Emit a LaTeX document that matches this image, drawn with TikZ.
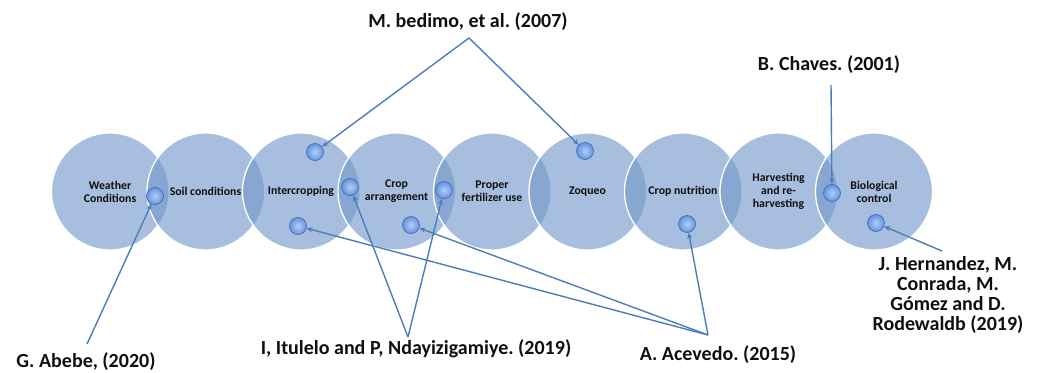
\documentclass[tikz,border=0pt]{standalone}
\usepackage{fontspec}
\setmainfont{Carlito}
\usetikzlibrary{arrows.meta}
\frenchspacing
\definecolor{cbase}{RGB}{117,154,203}
\definecolor{lineblue}{RGB}{74,126,187}
\definecolor{dotin}{RGB}{180,206,248}
\definecolor{dotout}{RGB}{100,148,222}
\definecolor{dotedge}{RGB}{65,110,178}
\definecolor{txt}{RGB}{15,15,15}
\tikzset{
  cfill/.style={fill=cbase, fill opacity=0.64},
  cborder/.style={draw=white, line width=1.3},
  ctext/.style={align=center, font=\fontsize{11.8}{13}\selectfont\bfseries, text=txt, inner sep=0},
  dotnode/.style={circle, minimum size=17, inner sep=0, draw=dotedge, line width=0.7, inner color=dotin, outer color=dotout},
  reflabel/.style={align=center, font=\fontsize{20}{20}\selectfont\bfseries, text=txt, inner sep=0},
  link/.style={draw=lineblue, line width=1.4, -{Stealth[length=6pt,width=5pt]}}
}
\begin{document}
\begin{tikzpicture}[x=1pt,y=-1pt]
\useasboundingbox (0,0) rectangle (1038,372);
% circle centres
\foreach \i/\x in {1/110,2/205.5,3/301,4/396.5,5/492,6/587.5,7/683,8/778.5,9/874}
  \coordinate (c\i) at (\x,191.5);
% circles
\foreach \i [evaluate=\i as \j using int(\i+1)] in {1,...,9}{
  \fill[cfill] (c\i) circle[radius=58.5];
  \begin{scope}[even odd rule]
    \ifnum\i<9 \clip (-20,-20) rectangle (1060,400) (c\j) circle[radius=58.5];\fi
    \draw[cborder] (c\i) circle[radius=58.5];
  \end{scope}
}
% circle texts
\node[ctext] (t1) at (c1) {Weather\\Conditions};
\node[ctext] (t2) at (c2) {Soil conditions};
\node[ctext] (t3) at (c3) {Intercropping};
\node[ctext] (t4) at (c4) {Crop\\arrangement};
\node[ctext] (t5) at (c5) {Proper\\fertilizer use};
\node[ctext] (t6) at (c6) {Zoqueo};
\node[ctext] (t7) at (c7) {Crop nutrition};
\node[ctext] (t8) at (c8) {Harvesting\\and re-\\harvesting};
\node[ctext] (t9) at (c9) {Biological\\control};
% dots
\node[dotnode] (dA) at (155,196) {};
\node[dotnode] (dB) at (315,152) {};
\node[dotnode] (dC) at (298,226) {};
\node[dotnode] (dD) at (350,187) {};
\node[dotnode] (dE) at (411,225) {};
\node[dotnode] (dF) at (444,190) {};
\node[dotnode] (dG) at (585,151) {};
\node[dotnode] (dH) at (687,224) {};
\node[dotnode] (dI) at (832,193) {};
\node[dotnode] (dJ) at (876,223) {};
% labels
\node[reflabel] (lbedimo) at (468,22) {M. bedimo, et al. (2007)};
\node[reflabel] (lchaves) at (829,65) {B. Chaves. (2001)};
\node[reflabel] (labebe) at (86,362) {G. Abebe, (2020)};
\node[reflabel] (litulelo) at (416,349) {I, Itulelo and P, Ndayizigamiye. (2019)};
\node[reflabel] (lacevedo) at (718,355) {A. Acevedo. (2015)};
\node[reflabel] (lhern) at (948,295) {J. Hernandez, M.\\Conrada, M.\\Gómez and D.\hspace{12pt}\\Rodewaldb (2019)};
% connector origins
\coordinate (pbedimo) at (469,38);
\coordinate (pchaves) at (831,85);
\coordinate (pabebe) at (87,344);
\coordinate (pitulelo) at (408,337);
\coordinate (pacevedo) at (708,335);
\coordinate (phern) at (942,251);
% connectors
\draw[link] (pbedimo) -- (dB);
\draw[link] (pbedimo) -- (dG);
\draw[link] (pchaves) -- (dI);
\draw[link] (pabebe) -- (dA);
\draw[link] (pitulelo) -- (dD);
\draw[link] (pitulelo) -- (dF);
\draw[link] (pacevedo) -- (dC);
\draw[link] (pacevedo) -- (dE);
\draw[link] (pacevedo) -- (dH);
\draw[link] (phern) -- (dJ);
\end{tikzpicture}
\end{document}
